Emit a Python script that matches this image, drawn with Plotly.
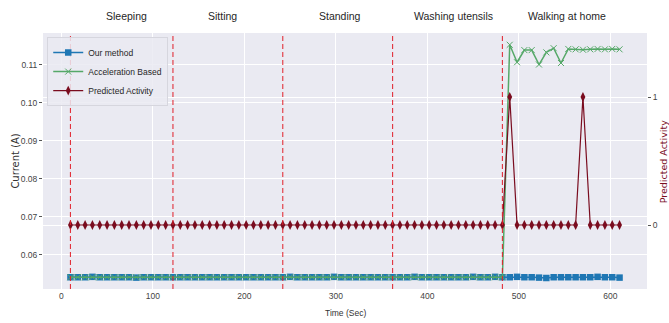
import plotly.graph_objects as go

# ---------------- data ----------------
time_sec = [10 + 8 * k for k in range(76)]

our_method = [0.0541] * 76
for i, v in {3: 0.0542, 9: 0.0540, 18: 0.0541, 30: 0.0542, 36: 0.0542, 44: 0.0541,
             47: 0.0542, 52: 0.0541, 55: 0.0542, 58: 0.0542, 61: 0.0542, 64: 0.0540,
             65: 0.0539, 68: 0.0541, 72: 0.0542, 75: 0.0540}.items():
    our_method[i] = v

accel_based = [0.0541] * 60 + [0.1153, 0.1107, 0.1139, 0.1139, 0.1101, 0.1133,
                               0.1144, 0.1105, 0.1142, 0.1141, 0.1140, 0.1141,
                               0.1142, 0.1141, 0.1142, 0.1141]

predicted = [0] * 76
predicted[60] = 1   # t = 490
predicted[70] = 1   # t = 570

boundaries = [10, 122, 242, 362, 482]
activities = ["Sleeping", "Sitting", "Standing", "Washing utensils", "Walking at home"]
activity_pos = [0.1386, 0.298, 0.4917, 0.679, 0.8675]

x_ticks = [0, 100, 200, 300, 400, 500, 600]
y_ticks = [0.06, 0.07, 0.08, 0.09, 0.10, 0.11]
y_tick_text = ["0.06", "0.07", "0.08", "0.09", "0.10", "0.11"]
y2_ticks = [0, 1]

# ---------------- style ----------------
SANS = "Liberation Sans, Arial, sans-serif"
BLUE = "#1f77b4"
GREEN = "#55a868"
DARKRED = "#7a0c1f"
BG = "#eaeaf2"

fig = go.Figure()

fig.add_trace(go.Scatter(
    x=time_sec, y=our_method, name="Our method", mode="lines+markers",
    line=dict(color=BLUE, width=1.5),
    marker=dict(symbol="square", size=6.5, color=BLUE),
))
fig.add_trace(go.Scatter(
    x=time_sec, y=accel_based, name="Acceleration Based", mode="lines+markers",
    line=dict(color=GREEN, width=1.5),
    marker=dict(symbol="x-thin", size=6, color=GREEN, line=dict(color=GREEN, width=1)),
))
fig.add_trace(go.Scatter(
    x=time_sec, y=predicted, name="Predicted Activity", mode="lines+markers",
    yaxis="y2",
    line=dict(color=DARKRED, width=1.2),
    marker=dict(symbol="diamond-tall", size=7, color=DARKRED),
))

shapes = []
for b in boundaries:
    shapes.append(dict(type="line", xref="x", yref="paper", x0=b, x1=b, y0=0, y1=1,
                       line=dict(color="rgba(225,30,40,0.9)", width=1.1, dash="5px,3px"),
                       layer="above"))

annotations = []
for name, px in zip(activities, activity_pos):
    annotations.append(dict(text=name, xref="paper", yref="paper", x=px, y=1.066,
                            xanchor="center", yanchor="middle", showarrow=False,
                            font=dict(family=SANS, size=10.5, color="#262626")))
annotations.append(dict(text="Time (Sec)", xref="paper", yref="paper", x=0.5, y=-0.094,
                        xanchor="center", yanchor="middle", showarrow=False,
                        font=dict(family=SANS, size=8.5, color="#333333")))
annotations.append(dict(text="Current (A)", xref="paper", yref="paper", x=-0.047, y=0.5,
                        xanchor="center", yanchor="middle", showarrow=False, textangle=-90,
                        font=dict(family="DejaVu Sans, sans-serif", size=10, color="#333333")))
annotations.append(dict(text="Predicted Activity", xref="paper", yref="paper", x=1.027, y=0.5,
                        xanchor="center", yanchor="middle", showarrow=False, textangle=-90,
                        font=dict(family="DejaVu Sans, sans-serif", size=9.5, color=DARKRED)))

fig.update_layout(
    width=669, height=323,
    margin=dict(l=43, r=22, t=33, b=34),
    paper_bgcolor="white", plot_bgcolor=BG,
    showlegend=True,
    legend=dict(x=0.007, y=0.984, xanchor="left", yanchor="top",
                bgcolor="rgba(234,234,242,0.85)", bordercolor="#d6d6de", borderwidth=1,
                font=dict(family=SANS, size=8.5, color="#262626"),
                itemwidth=30, tracegroupgap=0),
    xaxis=dict(range=[-20, 640], tickvals=x_ticks, showgrid=True, gridcolor="white",
               gridwidth=1, zeroline=False, showline=False, ticks="",
               tickfont=dict(family=SANS, size=8.5, color="#444444"), automargin=False),
    yaxis=dict(range=[0.0510, 0.1184], tickvals=y_ticks, ticktext=y_tick_text,
               showgrid=True, gridcolor="white", gridwidth=1, zeroline=False,
               showline=False, ticks="outside", ticklen=3, tickcolor="#555555",
               tickfont=dict(family=SANS, size=8.5, color="#444444"), automargin=False),
    yaxis2=dict(range=[-0.5, 1.5], tickvals=y2_ticks, overlaying="y", side="right",
                showgrid=True, gridcolor="white", gridwidth=1, zeroline=False,
                showline=False, ticks="outside", ticklen=3, tickcolor="#555555",
                tickfont=dict(family=SANS, size=8.5, color="#444444"), automargin=False),
    shapes=shapes,
    annotations=annotations,
)

fig.write_html("out.html", config={"displayModeBar": False},
               post_script="document.body.style.margin='0';document.body.style.padding='0';")
